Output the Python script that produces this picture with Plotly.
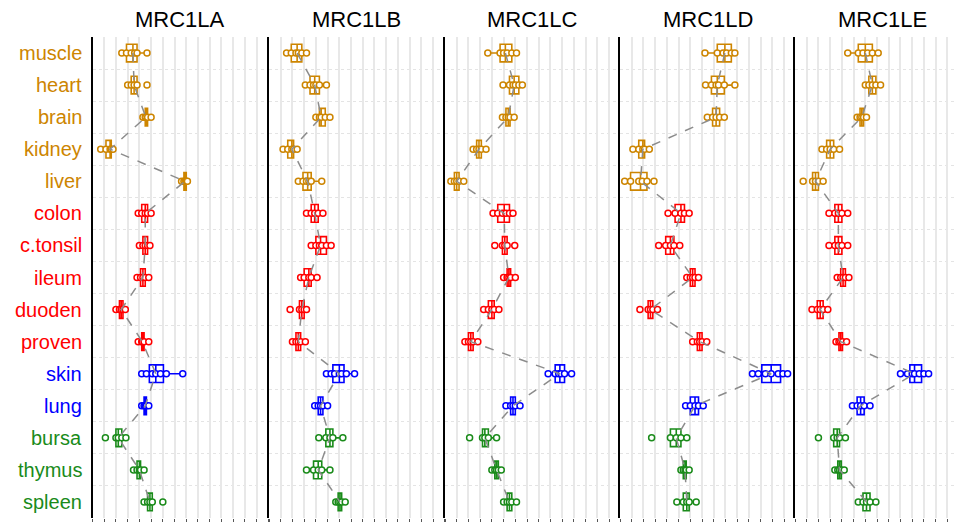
import numpy as np
import plotly.graph_objects as go

tissues = ["muscle", "heart", "brain", "kidney", "liver", "colon", "c.tonsil", "ileum",
           "duoden", "proven", "skin", "lung", "bursa", "thymus", "spleen"]
tissue_groups = ["muscle"] * 5 + ["gut"] * 5 + ["skin"] * 2 + ["immune"] * 3
group_colors = {"muscle": "#CD8500", "gut": "#FF0000", "skin": "#0000FF", "immune": "#1A8B1A"}
genes = ["MRC1LA", "MRC1LB", "MRC1LC", "MRC1LD", "MRC1LE"]

mrc1la = [
    [2.5, 2.9, 3.3, 3.6, 3.8, 4.65],
    [3.0, 3.3, 3.55, 3.8, 4.65],
    [4.3, 4.5, 4.55, 4.7, 5.0],
    [0.7, 1.15, 1.5, 1.6, 1.75],
    [7.6, 7.8, 7.9, 8.0, 8.1],
    [3.9, 4.2, 4.5, 4.7, 5.0],
    [4.0, 4.3, 4.5, 4.7, 4.9],
    [3.8, 4.1, 4.3, 4.5, 4.8],
    [2.0, 2.3, 2.45, 2.6, 2.8],
    [3.9, 4.2, 4.25, 4.4, 4.8],
    [4.2, 4.6, 5.1, 5.4, 5.8, 6.3, 7.7],
    [4.2, 4.4, 4.5, 4.6, 4.8],
    [1.1, 2.0, 2.2, 2.5, 2.85],
    [3.5, 3.8, 4.0, 4.1, 4.4],
    [4.4, 4.7, 4.9, 5.1, 6.0],
]
mrc1lb = [
    [1.5, 1.9, 2.3, 2.5, 2.8, 3.2],
    [3.1, 3.5, 3.8, 4.0, 4.3, 4.9],
    [4.0, 4.3, 4.45, 4.8, 5.2],
    [1.2, 1.6, 1.95, 2.1, 2.4],
    [2.5, 2.9, 3.2, 3.4, 3.6, 4.5],
    [3.2, 3.6, 3.9, 4.2, 4.6],
    [3.6, 4.0, 4.3, 4.5, 4.9, 5.3],
    [2.7, 3.0, 3.4, 3.6, 4.1],
    [1.8, 2.6, 2.8, 3.0, 3.2],
    [2.0, 2.3, 2.5, 2.7, 3.1],
    [4.9, 5.3, 5.6, 6.0, 6.2, 6.6, 7.3],
    [3.9, 4.2, 4.4, 4.6, 5.0],
    [4.25, 4.85, 5.2, 5.45, 6.3],
    [3.2, 3.8, 4.2, 4.5, 5.2],
    [5.7, 5.9, 6.05, 6.2, 6.5],
]
mrc1lc = [
    [3.65, 4.7, 5.0, 5.3, 5.7, 6.1],
    [4.95, 5.5, 5.8, 6.0, 6.3, 6.6],
    [4.9, 5.2, 5.4, 5.55, 5.9],
    [2.4, 2.7, 2.9, 3.1, 3.5],
    [0.5, 0.8, 1.0, 1.2, 1.6],
    [4.1, 4.5, 4.9, 5.2, 5.5, 5.8],
    [4.25, 4.9, 5.1, 5.3, 5.95],
    [5.0, 5.3, 5.45, 5.6, 6.0],
    [3.3, 3.7, 4.0, 4.2, 4.6],
    [1.7, 2.0, 2.2, 2.4, 2.8],
    [8.8, 9.4, 9.7, 9.9, 10.2, 10.8],
    [5.2, 5.6, 5.8, 6.0, 6.4],
    [2.1, 3.2, 3.4, 3.7, 4.4],
    [4.0, 4.25, 4.4, 4.55, 4.8],
    [5.0, 5.3, 5.5, 5.7, 6.1],
]
mrc1ld = [
    [7.25, 8.3, 8.8, 9.1, 9.5, 9.8],
    [7.3, 7.8, 8.2, 8.4, 8.9, 9.8],
    [7.45, 7.9, 8.2, 8.5, 8.9],
    [1.1, 1.6, 1.95, 2.1, 2.5],
    [0.4, 0.9, 1.6, 1.9, 2.3, 2.9],
    [4.1, 4.7, 5.2, 5.5, 5.9],
    [3.3, 3.9, 4.3, 4.6, 5.1],
    [5.7, 6.0, 6.2, 6.4, 6.7],
    [1.7, 2.4, 2.6, 2.8, 3.2],
    [6.2, 6.6, 6.8, 7.0, 7.4],
    [11.3, 11.8, 12.4, 12.9, 13.5, 13.9, 14.3],
    [5.6, 6.0, 6.4, 6.7, 7.1],
    [2.7, 4.3, 4.8, 5.2, 5.7],
    [5.2, 5.4, 5.55, 5.65, 5.9],
    [4.85, 5.4, 5.7, 5.9, 6.5],
]
mrc1le = [
    [4.5, 5.4, 5.8, 6.2, 6.6, 7.1],
    [6.0, 6.3, 6.6, 6.9, 7.3],
    [5.3, 5.55, 5.7, 5.85, 6.1],
    [2.3, 2.7, 3.0, 3.3, 3.8],
    [0.7, 1.5, 1.75, 2.0, 2.4],
    [2.9, 3.4, 3.7, 4.0, 4.5],
    [2.9, 3.4, 3.7, 4.0, 4.5],
    [3.6, 3.9, 4.1, 4.3, 4.6],
    [1.45, 1.9, 2.15, 2.4, 2.8],
    [3.5, 3.75, 3.9, 4.05, 4.4],
    [9.0, 9.6, 10.0, 10.2, 10.6, 11.0, 11.4],
    [4.9, 5.3, 5.6, 5.9, 6.4],
    [2.0, 3.3, 3.6, 3.8, 4.3],
    [3.4, 3.65, 3.8, 3.95, 4.2],
    [5.4, 5.8, 6.1, 6.4, 6.9],
]
gene_data = [mrc1la, mrc1lb, mrc1lc, mrc1ld, mrc1le]

# page body has an 8px margin, so the figure is laid out in page px minus 8
OFF = 8
W, H = 964 - OFF, 524 - OFF
MT, MB = 37 - OFF, 6
panel_left_px = [p - OFF for p in [92.5, 269, 445, 620, 795]]
panel_w = 175.7
unit_px = 11.72
font = "Liberation Sans, Arial, sans-serif"

fig = go.Figure()
for g, (gene, data) in enumerate(zip(genes, gene_data)):
    xa = "x" if g == 0 else f"x{g+1}"
    ya = "y" if g == 0 else f"y{g+1}"
    medians = [float(np.median(v)) for v in data]
    fig.add_trace(go.Scatter(x=medians, y=list(range(len(tissues))), mode="lines",
                             line=dict(color="#8c8c8c", width=1.5, dash="dash"),
                             xaxis=xa, yaxis=ya, showlegend=False, hoverinfo="skip"))
    for i, (t, vals) in enumerate(zip(tissues, data)):
        col = group_colors[tissue_groups[i]]
        fig.add_trace(go.Box(
            x=vals, y=[i] * len(vals), orientation="h", name=t,
            boxpoints="all", jitter=0, pointpos=0, width=0.55, whiskerwidth=0,
            quartilemethod="inclusive",
            line=dict(color=col, width=1.6), fillcolor="white",
            marker=dict(symbol="circle", size=6, color="white",
                        line=dict(color=col, width=1.5)),
            xaxis=xa, yaxis=ya, showlegend=False))

layout = dict(width=W, height=H, margin=dict(l=0, r=0, t=MT, b=MB),
              plot_bgcolor="white", paper_bgcolor="white", showlegend=False)
annotations = []
plot_h = H - MT - MB
for g in range(5):
    left = panel_left_px[g]
    right = panel_left_px[g + 1] if g < 4 else W
    span = (right - left) / unit_px
    xkey = "xaxis" if g == 0 else f"xaxis{g+1}"
    ykey = "yaxis" if g == 0 else f"yaxis{g+1}"
    layout[xkey] = dict(domain=[left / W, right / W], range=[0, span],
                        anchor="y" if g == 0 else f"y{g+1}",
                        tickmode="linear", tick0=0, dtick=1,
                        showgrid=True, gridcolor="#e8e8e8", gridwidth=1.5,
                        zeroline=False, showticklabels=False,
                        ticks="outside", ticklen=3, tickcolor="#555555", tickwidth=1,
                        showline=False)
    layout[ykey] = dict(range=[14.5, -0.5], anchor="x" if g == 0 else f"x{g+1}",
                        showticklabels=False, showgrid=False, zeroline=False,
                        tickvals=list(range(len(tissues))), ticks="",
                        minor=dict(tickvals=[k - 0.5 for k in range(len(tissues) + 1)],
                                   showgrid=True, gridcolor="#e4e4e4", griddash="dot",
                                   gridwidth=1.2, ticks=""),
                        showline=True, linecolor="black", linewidth=1.8,
                        **({} if g == 0 else {"matches": "y"}))
    annotations.append(dict(text=genes[g], xref="paper", yref="paper",
                            x=(left + panel_w / 2) / W,
                            y=1 + (MT - 11) / plot_h, xanchor="center", yanchor="middle",
                            showarrow=False, font=dict(family=font, size=22, color="black")))

for i, t in enumerate(tissues):
    annotations.append(dict(text=t, xref="paper", yref="y", x=76 / W, y=i,
                            xanchor="right", yanchor="middle", showarrow=False,
                            font=dict(family=font, size=20, color=group_colors[tissue_groups[i]])))

layout["annotations"] = annotations
fig.update_layout(**layout)
fig.write_html("out.html")
